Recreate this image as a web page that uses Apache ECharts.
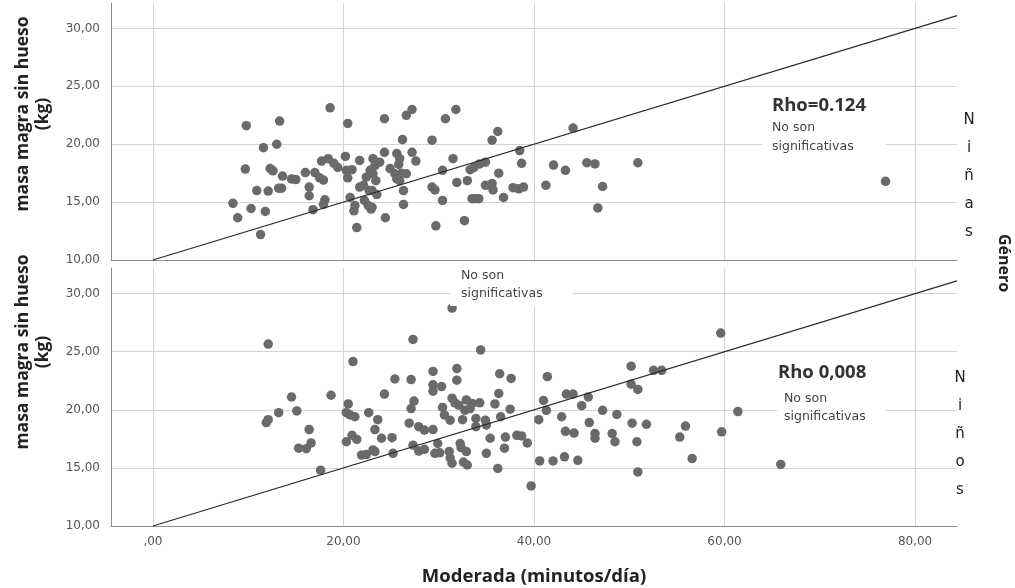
<!DOCTYPE html>
<html>
<head>
<meta charset="utf-8">
<script src="https://cdn.jsdelivr.net/npm/echarts@6/dist/echarts.min.js"></script>
<style>
html,body{margin:0;padding:0;background:#fff;}
#chart{width:1015px;height:588px;}
</style>
</head>
<body>
<div id="chart"></div>
<script>
// ---- data ----
const xTicks = [0, 20, 40, 60, 80];
const yTicks = [10, 15, 20, 25, 30];
const xRange = [-4.4, 84.4];
const yRange = [10, 32.2];
const refLine = [[0, 10], [84.4, 31.1]];

const ninasPoints = [
 [9.8,21.6],[13.3,22.0],[11.6,19.7],[13.0,20.0],[9.7,17.85],[12.3,17.9],[12.6,17.7],[13.6,17.25],[14.55,17.0],[15.0,16.95],
 [10.9,16.0],[12.1,15.95],[13.2,16.2],[13.5,16.2],[8.4,14.9],[8.9,13.65],[10.3,14.45],[11.8,14.2],[11.3,12.2],
 [18.6,23.15],[20.45,21.8],[16.0,17.55],[17.0,17.55],[17.5,17.1],[17.9,16.9],[16.4,16.3],[16.4,15.55],[17.7,18.55],[18.4,18.75],
 [19.0,18.35],[19.4,18.0],[20.2,18.95],[20.3,17.75],[20.9,17.8],[20.45,17.1],[21.7,18.6],[16.8,14.35],[18.05,15.2],[17.9,14.8],
 [20.7,15.4],[21.2,14.7],[21.1,14.25],[21.4,12.8],[22.2,15.15],[22.6,14.7],[22.9,14.4],[22.7,16.0],[22.4,17.15],[22.1,16.45],
 [21.7,16.3],[23.1,18.75],[23.3,18.15],[22.8,17.75],[23.4,16.85],
 [24.3,22.2],[26.6,22.5],[27.2,23.0],[30.7,22.2],[31.8,23.0],[26.2,20.4],[29.3,20.35],[35.6,20.35],[36.2,21.1],[24.3,19.3],
 [23.8,18.45],[23.1,17.45],[23.0,16.0],[23.5,15.65],[23.0,14.55],[25.6,19.2],[25.9,18.75],[25.8,18.25],[24.9,17.9],[25.4,17.45],
 [26.1,17.5],[26.6,17.45],[25.6,17.0],[25.9,16.85],[27.2,19.3],[27.6,18.55],[26.3,16.0],[26.3,14.8],[24.4,13.65],[29.3,16.3],
 [29.6,16.05],[30.4,17.75],[30.4,15.15],[29.7,12.95],[31.5,18.75],[31.9,16.7],[33.0,16.85],[33.3,17.8],[33.7,18.0],[34.3,18.3],
 [34.9,18.45],[32.7,13.4],[33.5,15.3],[33.8,15.3],[34.2,15.3],[36.3,17.5],[34.9,16.45],[35.6,16.6],[35.7,16.05],[36.8,15.4],
 [37.8,16.25],[38.4,16.15],[38.9,16.3],[38.5,19.45],[38.7,18.35],
 [44.1,21.4],[42.05,18.2],[43.3,17.75],[45.55,18.4],[46.4,18.3],[50.9,18.4],[41.25,16.45],[47.2,16.35],[46.7,14.5],[76.9,16.8]
];

const ninosPoints = [
 [12.1,25.65],[21.0,24.15],[25.4,22.65],[24.3,21.35],[18.7,21.25],[14.55,21.1],[15.1,19.9],[13.2,19.75],[12.1,19.15],[11.9,18.9],
 [16.4,18.3],[15.3,16.7],[16.1,16.65],[16.6,17.15],[17.6,14.8],[20.5,20.5],[20.3,19.75],[20.7,19.55],[21.2,19.4],[22.65,19.75],
 [23.6,19.15],[23.3,18.3],[24.0,17.55],[25.1,17.6],[20.3,17.25],[20.9,17.8],[21.4,17.45],[21.9,16.1],[22.4,16.15],[23.1,16.55],
 [23.3,16.4],[25.2,16.25],[27.3,26.05],[34.4,25.15],[27.1,22.6],[29.4,23.3],[31.9,23.55],[31.9,22.55],[36.4,23.1],[37.6,22.7],
 [41.4,22.85],[29.4,22.15],[29.4,21.6],[30.3,22.0],[36.3,21.4],[43.4,21.35],[27.4,20.75],[27.1,20.1],[31.4,21.0],[31.7,20.6],
 [32.1,20.4],[30.4,20.2],[30.6,19.55],[31.2,19.1],[32.9,20.85],[33.5,20.55],[34.3,20.6],[32.75,19.95],[33.3,20.1],[35.9,20.5],
 [37.5,20.05],[41.0,20.8],[41.3,19.95],[26.9,18.85],[27.9,18.55],[28.5,18.25],[29.4,18.3],[32.5,19.15],[33.9,19.25],[33.9,18.55],
 [34.9,19.1],[35.0,18.7],[36.5,19.4],[40.5,19.15],[42.9,19.4],[43.3,18.15],[35.4,17.55],[37.0,17.65],[36.9,16.7],[38.2,17.8],
 [38.7,17.75],[39.3,17.15],[35.0,16.25],[36.2,14.95],[39.7,13.45],[40.6,15.6],[42.0,15.6],[43.2,15.95],[27.3,16.95],[27.9,16.45],
 [28.5,16.6],[29.6,16.25],[29.9,17.1],[30.1,16.3],[31.1,16.4],[31.2,15.85],[31.4,15.4],[32.25,17.1],[32.35,16.75],[32.9,16.4],
 [32.6,15.5],[33.0,15.25],[50.2,23.75],[52.55,23.4],[53.4,23.4],[50.2,22.2],[50.9,21.75],[44.1,21.35],[45.0,20.35],[45.7,21.1],
 [47.2,19.95],[48.7,19.6],[45.8,18.9],[44.2,18.0],[46.4,17.95],[46.4,17.55],[48.2,17.95],[48.5,17.25],[50.3,18.85],[51.8,18.75],
 [50.8,17.25],[50.9,14.65],[55.3,17.65],[55.9,18.6],[56.6,15.8],[44.6,15.65],[31.4,28.75],[59.6,26.6],[61.4,19.85],[59.7,18.1],
 [65.9,15.3]
];

// ---- styling ----
const fmt = v => { const s = v.toFixed(2).replace('.', ','); return v === 0 ? ',00' : s; };
const gridColor = '#d4d4d4';
const axisColor = '#8c8c8c';
const dotColor = '#6a6a6a';
const tickFont = { fontFamily: 'DejaVu Sans', fontSize: 12, color: '#555' };

function xAxisFor(i, showLabels) {
  return {
    type: 'value', gridIndex: i, min: xRange[0], max: xRange[1],
    axisLine: { show: true, lineStyle: { color: axisColor, width: 1 } },
    axisTick: { show: false, customValues: xTicks },
    axisLabel: Object.assign({ show: showLabels, customValues: xTicks, formatter: fmt, margin: 10 }, tickFont),
    splitLine: { show: true, lineStyle: { color: gridColor, width: 1 } }
  };
}
function yAxisFor(i) {
  return {
    type: 'value', gridIndex: i, min: yRange[0], max: yRange[1],
    axisLine: { show: true, onZero: false, lineStyle: { color: axisColor, width: 1 } },
    axisTick: { show: false, customValues: yTicks },
    axisLabel: Object.assign({ customValues: yTicks, formatter: fmt, margin: 11 }, tickFont),
    splitLine: { show: true, lineStyle: { color: gridColor, width: 1 } }
  };
}
function scatter(i, pts) {
  return { type: 'scatter', xAxisIndex: i, yAxisIndex: i, data: pts, symbolSize: 9.5,
    itemStyle: { color: dotColor, opacity: 1 }, z: 3, silent: true };
}
function fit(i) {
  return { type: 'line', xAxisIndex: i, yAxisIndex: i, data: refLine, symbol: 'none',
    lineStyle: { color: '#2a2a2a', width: 1.3 }, z: 4, silent: true };
}

const yTitleFont = 'bold 17.5px "Open Sans"';
const xTitleFont = 'bold 18.5px "Open Sans"';
const noteFont = '12.5px "DejaVu Sans"';
const rhoFont = 'bold 18.5px "Open Sans"';
function note(x, y, text) {
  return { type: 'text', x: x, y: y, z: 101,
    style: { text: text, font: noteFont, fill: '#444', align: 'left', verticalAlign: 'middle' } };
}
function rho(x, y, text) {
  return { type: 'text', x: x, y: y, z: 101,
    style: { text: text, font: rhoFont, fill: '#333', align: 'left', verticalAlign: 'middle' } };
}
function box(x, y, w, h) {
  return { type: 'rect', z: 100, shape: { x: x, y: y, width: w, height: h }, style: { fill: '#fff' } };
}

const chart = echarts.init(document.getElementById('chart'), null, { renderer: 'canvas' });
chart.setOption({
  animation: false,
  backgroundColor: '#fff',
  grid: [
    { left: 111, top: 3, width: 846, height: 257 },
    { left: 111, top: 268, width: 846, height: 258 }
  ],
  xAxis: [xAxisFor(0, false), xAxisFor(1, true)],
  yAxis: [yAxisFor(0), yAxisFor(1)],
  series: [scatter(0, ninasPoints), fit(0), scatter(1, ninosPoints), fit(1)],
  graphic: [
    box(762, 92, 124, 64),
    box(450, 264, 123, 42),
    box(777, 360, 109, 65),
    rho(772, 106, 'Rho=0.124'),
    note(772, 128, 'No son'),
    note(772, 147, 'significativas'),
    note(461, 276, 'No son'),
    note(461, 294, 'significativas'),
    rho(778, 373, 'Rho 0,008'),
    note(784, 399, 'No son'),
    note(784, 417, 'significativas'),
    { type: 'text', x: 969, y: 176, z: 101, style: { text: 'N\ni\nñ\na\ns', font: '15px "DejaVu Sans"', fill: '#222', align: 'center', verticalAlign: 'middle', lineHeight: 28 } },
    { type: 'text', x: 960, y: 434, z: 101, style: { text: 'N\ni\nñ\no\ns', font: '15px "DejaVu Sans"', fill: '#222', align: 'center', verticalAlign: 'middle', lineHeight: 28 } },
    { type: 'text', x: 1004, y: 263, rotation: -Math.PI / 2, z: 101, style: { text: 'Género', font: 'bold 16px "Open Sans"', fill: '#222', align: 'center', verticalAlign: 'middle' } },
    { type: 'text', x: 33, y: 114, rotation: Math.PI / 2, z: 101, style: { text: 'masa magra sin hueso\n(kg)', font: yTitleFont, fill: '#222', align: 'center', verticalAlign: 'middle', lineHeight: 20 } },
    { type: 'text', x: 33, y: 352, rotation: Math.PI / 2, z: 101, style: { text: 'masa magra sin hueso\n(kg)', font: yTitleFont, fill: '#222', align: 'center', verticalAlign: 'middle', lineHeight: 20 } },
    { type: 'text', x: 534, y: 577, z: 101, style: { text: 'Moderada (minutos/día)', font: xTitleFont, fill: '#222', align: 'center', verticalAlign: 'middle' } }
  ]
});
</script>
</body>
</html>
